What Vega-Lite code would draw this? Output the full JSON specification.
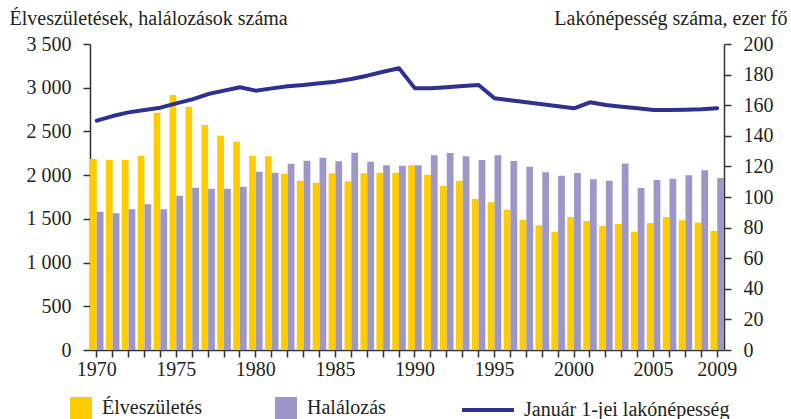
{
  "$schema": "https://vega.github.io/schema/vega-lite/v6.json",
  "width": 634,
  "height": 306,
  "autosize": {"type": "none"},
  "padding": {"left": 90, "top": 44, "right": 67, "bottom": 69},
  "background": "white",
  "config": {
    "view": {"stroke": null},
    "font": "Liberation Serif",
    "axis": {
      "grid": false,
      "domainColor": "#333333",
      "domainWidth": 1.5,
      "tickColor": "#333333",
      "tickWidth": 1.5,
      "tickSize": 7,
      "labelFont": "Liberation Serif",
      "labelFontSize": 20,
      "labelColor": "#231f20",
      "titleFont": "Liberation Serif",
      "titleFontSize": 20,
      "titleFontWeight": "normal",
      "titleColor": "#231f20"
    },
    "legend": {
      "labelFont": "Liberation Serif",
      "labelFontSize": 20,
      "labelColor": "#231f20",
      "labelLimit": 400,
      "padding": 0
    }
  },
  "data": {
    "values": [
      {"year": 1970, "births": 2185, "deaths": 1582, "pop": 149.9},
      {"year": 1971, "births": 2173, "deaths": 1563, "pop": 152.9},
      {"year": 1972, "births": 2173, "deaths": 1609, "pop": 155.3},
      {"year": 1973, "births": 2223, "deaths": 1666, "pop": 156.9},
      {"year": 1974, "births": 2714, "deaths": 1609, "pop": 158.4},
      {"year": 1975, "births": 2917, "deaths": 1765, "pop": 161.2},
      {"year": 1976, "births": 2783, "deaths": 1856, "pop": 163.8},
      {"year": 1977, "births": 2573, "deaths": 1845, "pop": 167.3},
      {"year": 1978, "births": 2451, "deaths": 1845, "pop": 169.5},
      {"year": 1979, "births": 2383, "deaths": 1868, "pop": 171.7},
      {"year": 1980, "births": 2223, "deaths": 2040, "pop": 169.5},
      {"year": 1981, "births": 2216, "deaths": 2028, "pop": 171.0},
      {"year": 1982, "births": 2017, "deaths": 2131, "pop": 172.4},
      {"year": 1983, "births": 1937, "deaths": 2165, "pop": 173.2},
      {"year": 1984, "births": 1914, "deaths": 2200, "pop": 174.3},
      {"year": 1985, "births": 2021, "deaths": 2158, "pop": 175.4},
      {"year": 1986, "births": 1930, "deaths": 2257, "pop": 177.1},
      {"year": 1987, "births": 2021, "deaths": 2154, "pop": 179.3},
      {"year": 1988, "births": 2028, "deaths": 2112, "pop": 181.9},
      {"year": 1989, "births": 2028, "deaths": 2108, "pop": 184.1},
      {"year": 1990, "births": 2112, "deaths": 2112, "pop": 171.0},
      {"year": 1991, "births": 2005, "deaths": 2227, "pop": 171.0},
      {"year": 1992, "births": 1879, "deaths": 2253, "pop": 171.7},
      {"year": 1993, "births": 1937, "deaths": 2216, "pop": 172.5},
      {"year": 1994, "births": 1728, "deaths": 2173, "pop": 173.2},
      {"year": 1995, "births": 1689, "deaths": 2227, "pop": 164.5},
      {"year": 1996, "births": 1605, "deaths": 2161, "pop": 163.2},
      {"year": 1997, "births": 1491, "deaths": 2097, "pop": 161.9},
      {"year": 1998, "births": 1425, "deaths": 2032, "pop": 160.6},
      {"year": 1999, "births": 1353, "deaths": 1994, "pop": 159.3},
      {"year": 2000, "births": 1521, "deaths": 2025, "pop": 158.0},
      {"year": 2001, "births": 1475, "deaths": 1952, "pop": 161.9},
      {"year": 2002, "births": 1419, "deaths": 1937, "pop": 160.1},
      {"year": 2003, "births": 1441, "deaths": 2132, "pop": 159.0},
      {"year": 2004, "births": 1353, "deaths": 1853, "pop": 158.0},
      {"year": 2005, "births": 1452, "deaths": 1944, "pop": 156.9},
      {"year": 2006, "births": 1521, "deaths": 1959, "pop": 156.9},
      {"year": 2007, "births": 1483, "deaths": 1998, "pop": 157.1},
      {"year": 2008, "births": 1456, "deaths": 2055, "pop": 157.3},
      {"year": 2009, "births": 1361, "deaths": 1967, "pop": 158.0}
    ]
  },
  "encoding": {
    "x": {
      "field": "year",
      "type": "ordinal",
      "scale": {"paddingInner": 0.15, "paddingOuter": 0},
      "axis": {
        "title": null,
        "labelAngle": 0,
        "labelPadding": 2,
        "labelOverlap": false,
        "labelExpr": "(datum.value % 5 == 0 || datum.value == 2009) ? datum.label : ''"
      }
    }
  },
  "layer": [
    {
      "transform": [
        {"calculate": "datum.births", "as": "Élveszületés"},
        {"calculate": "datum.deaths", "as": "Halálozás"},
        {"fold": ["Élveszületés", "Halálozás"], "as": ["key", "value"]}
      ],
      "mark": {"type": "bar"},
      "encoding": {
        "xOffset": {"field": "key", "type": "nominal", "sort": ["Élveszületés", "Halálozás"]},
        "y": {
          "field": "value",
          "type": "quantitative",
          "scale": {"domain": [0, 3500], "nice": false},
          "axis": {
            "values": [0, 500, 1000, 1500, 2000, 2500, 3000, 3500],
            "labelPadding": 12,
            "labelExpr": "replace(format(datum.value, ','), ',', ' ')",
            "title": "Élveszületések, halálozások száma",
            "titleAngle": 0,
            "titleAlign": "left",
            "titleBaseline": "alphabetic",
            "titleX": -81,
            "titleY": -20
          }
        },
        "color": {
          "field": "key",
          "type": "nominal",
          "scale": {"domain": ["Élveszületés", "Halálozás"], "range": ["#FFCC00", "#9D97C9"]},
          "legend": {
            "title": null,
            "orient": "none",
            "direction": "horizontal",
            "legendX": -20,
            "legendY": 353,
            "symbolType": "square",
            "symbolSize": 484,
            "symbolStrokeWidth": 0,
            "symbolOpacity": 1,
            "labelOffset": 10,
            "columnPadding": 73
          }
        }
      }
    },
    {
      "mark": {"type": "line", "strokeWidth": 4, "strokeJoin": "round", "strokeCap": "round"},
      "encoding": {
        "y": {
          "field": "pop",
          "type": "quantitative",
          "scale": {"domain": [0, 200], "nice": false},
          "axis": {
            "orient": "right",
            "values": [0, 20, 40, 60, 80, 100, 120, 140, 160, 180, 200],
            "labelPadding": 12,
            "title": "Lakónépesség száma, ezer fő",
            "titleAngle": 0,
            "titleAlign": "right",
            "titleBaseline": "alphabetic",
            "titleX": 63,
            "titleY": -20
          }
        },
        "stroke": {
          "datum": "Január 1-jei lakónépesség",
          "scale": {"range": ["#2E3192"]},
          "legend": {
            "title": null,
            "orient": "none",
            "legendX": 370,
            "legendY": 338,
            "symbolType": "stroke",
            "symbolSize": 2704,
            "symbolStrokeWidth": 4,
            "labelOffset": 8,
            "labelLimit": 400
          }
        }
      }
    }
  ],
  "resolve": {"scale": {"y": "independent"}}
}
